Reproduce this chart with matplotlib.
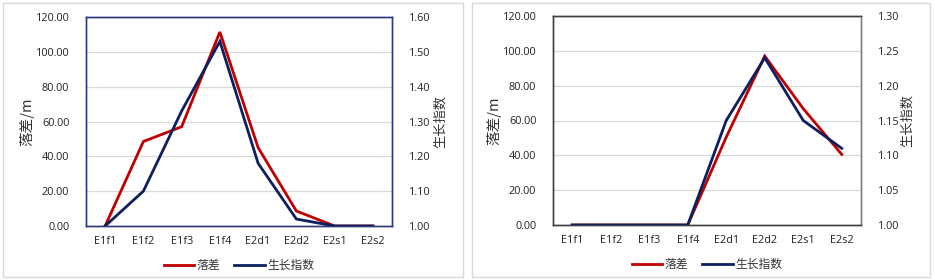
import matplotlib
matplotlib.use("Agg")
import matplotlib.pyplot as plt
from matplotlib.patches import Rectangle
from matplotlib.lines import Line2D

plt.rcParams['font.family'] = ['Open Sans', 'Noto Sans CJK SC', 'DejaVu Sans']

categories = ["E1f1", "E1f2", "E1f3", "E1f4", "E2d1", "E2d2", "E2s1", "E2s2"]

left_drop = [0, 48.5, 57, 111.4, 45, 8.6, 0, 0]
left_growth = [1.00, 1.10, 1.33, 1.53, 1.18, 1.02, 1.00, 1.00]

right_drop = [0, 0, 0, 0, 50.5, 97, 66.8, 40.5]
right_growth = [1.00, 1.00, 1.00, 1.00, 1.15, 1.24, 1.15, 1.11]

left_yticks = [0, 20, 40, 60, 80, 100, 120]
left_y2ticks = [1.00, 1.10, 1.20, 1.30, 1.40, 1.50, 1.60]
right_yticks = [0, 20, 40, 60, 80, 100, 120]
right_y2ticks = [1.00, 1.05, 1.10, 1.15, 1.20, 1.25, 1.30]

RED = "#C00000"
NAVY = "#0C1F5E"
W, H = 935, 280

fig = plt.figure(figsize=(W / 100, H / 100), dpi=100)

# panel borders
for (x0, x1) in [(3, 463), (472, 930)]:
    fig.patches.append(Rectangle((x0 / W, 3 / H), (x1 - x0) / W, (277 - 3) / H,
                                 transform=fig.transFigure, fill=False,
                                 edgecolor="#D9D9D9", linewidth=1.0))

def make_panel(rect, drop, growth, yt, y2t, spine_cols, ylab_x, y2lab_x):
    ax = fig.add_axes(rect)
    ax2 = ax.twinx()
    x = list(range(len(categories)))
    ax.set_xlim(-0.5, len(categories) - 0.5)
    ax.set_ylim(yt[0], yt[-1])
    ax2.set_ylim(y2t[0], y2t[-1])
    ax.set_yticks(yt)
    ax.set_yticklabels([f"{v:.2f}" for v in yt])
    ax2.set_yticks(y2t)
    ax2.set_yticklabels([f"{v:.2f}" for v in y2t])
    ax.set_xticks(x)
    ax.set_xticklabels(categories)
    ax.grid(axis='y', color="#D9D9D9", linewidth=0.9)
    ax.set_axisbelow(True)
    for a in (ax, ax2):
        a.tick_params(length=0, labelsize=7.8, colors="#222222")
    ax.tick_params(axis='y', pad=12)
    ax2.tick_params(axis='y', pad=12)
    ax.tick_params(axis='x', pad=7)
    ax.plot(x, drop, color=RED, linewidth=2.0, zorder=3, solid_joinstyle='miter')
    ax2.plot(x, growth, color=NAVY, linewidth=2.0, zorder=3, solid_joinstyle='miter')
    for a in (ax, ax2):
        for side, c in spine_cols.items():
            a.spines[side].set_color(c)
            a.spines[side].set_linewidth(1.0)
    ax.set_ylabel("落差/m", fontsize=10.5, color="#333333", family=['Noto Sans CJK SC', 'DejaVu Sans'])
    ax2.set_ylabel("生长指数", fontsize=9.5, color="#333333", rotation=90,
                   family=['Noto Sans CJK SC', 'DejaVu Sans'])
    ax.yaxis.set_label_coords(ylab_x, 0.5)
    ax2.yaxis.set_label_coords(y2lab_x, 0.5)
    handles = [Line2D([], [], color=RED, linewidth=2.0),
               Line2D([], [], color=NAVY, linewidth=2.0)]
    leg = ax.legend(handles, ["落差", "生长指数"], loc='center', ncol=2,
                    bbox_to_anchor=(0.5, -0.19), frameon=False,
                    prop={'family': 'Noto Sans CJK SC', 'size': 8.5},
                    handlelength=2.6, handletextpad=0.2, columnspacing=1.2,
                    borderpad=0.1)
    for t in leg.get_texts():
        t.set_color("#333333")
    return ax, ax2

navy_sp = "#2E3A7A"
make_panel([86 / W, 1 - 226 / H, (392 - 86) / W, (226 - 17) / H],
           left_drop, left_growth, left_yticks, left_y2ticks,
           {'left': navy_sp, 'right': navy_sp, 'top': navy_sp, 'bottom': navy_sp},
           -0.17, 1.137)
make_panel([553 / W, 1 - 225 / H, (861 - 553) / W, (225 - 16) / H],
           right_drop, right_growth, right_yticks, right_y2ticks,
           {'left': "#404040", 'right': "#808080", 'top': "#404040", 'bottom': "#404040"},
           -0.167, 1.13)

fig.savefig("out.png", dpi=100)
